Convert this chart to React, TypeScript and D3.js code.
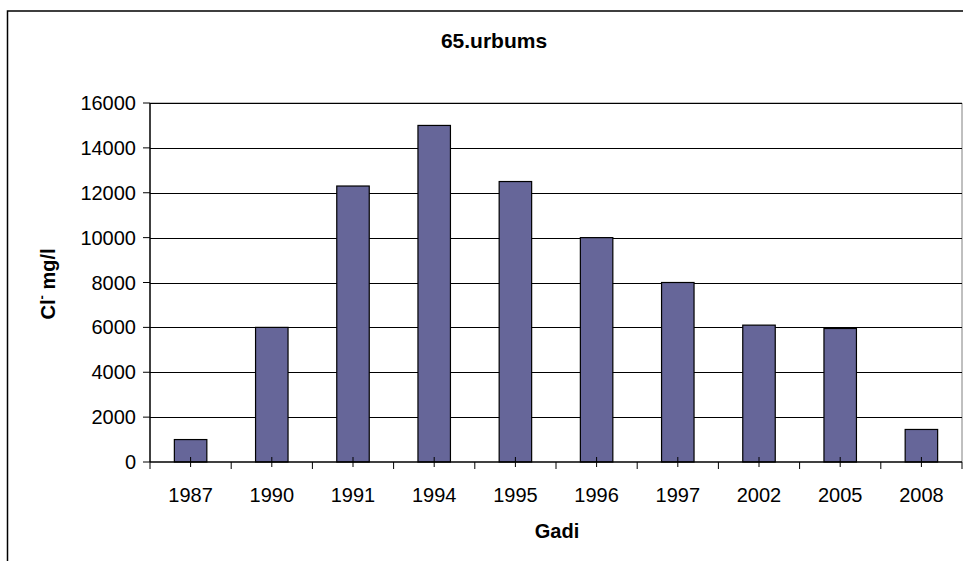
import * as d3 from "d3";
import React from "react";

const years = ["1987", "1990", "1991", "1994", "1995", "1996", "1997", "2002", "2005", "2008"];
const chloride = [1000, 6000, 12300, 15000, 12500, 10000, 8000, 6100, 5950, 1450];
const yTicks = [0, 2000, 4000, 6000, 8000, 10000, 12000, 14000, 16000];

const W = 963,
	H = 561;
const plot = { left: 150, right: 962, top: 103, bottom: 462 };
const font = "Arial, 'Liberation Sans', Helvetica, sans-serif";

const App = () => {
	const x = d3
		.scaleBand()
		.domain(years)
		.range([plot.left, plot.right])
		.paddingInner(0.6)
		.paddingOuter(0.3);
	const y = d3.scaleLinear().domain([0, 16000]).range([plot.bottom, plot.top]);

	// category boundaries (major ticks) and centres (minor ticks)
	const step = x.step();
	const bounds = d3.range(years.length + 1).map((i) => plot.left + i * step);
	const centres = years.map((d) => x(d)! + x.bandwidth() / 2);

	return (
		<svg
			width={W}
			height={H}
			style={{ position: "absolute", left: 0, top: 0, background: "#fff" }}
			fontFamily={font}
		>
			<rect x={0} y={0} width={W} height={H} fill="#fff" />
			{/* chart frame */}
			<path d={`M7.5,${H + 5} V11 H${W + 5}`} fill="none" stroke="#000" strokeWidth={1.5} />

			<text x={494} y={48} textAnchor="middle" fontSize={21} fontWeight="bold">
				65.urbums
			</text>

			{/* plot area border */}
			<path
				d={`M${plot.left},${plot.top} H${plot.right} V${plot.bottom}`}
				fill="none"
				stroke="#808080"
				strokeWidth={1}
			/>

			{/* gridlines */}
			{yTicks.slice(1).map((t) => (
				<line
					key={"g" + t}
					x1={plot.left}
					x2={plot.right}
					y1={Math.round(y(t)) + 0.5}
					y2={Math.round(y(t)) + 0.5}
					stroke="#000"
					strokeWidth={1}
				/>
			))}

			{/* bars */}
			{years.map((yr, i) => (
				<rect
					key={yr}
					x={x(yr)}
					y={y(chloride[i])}
					width={x.bandwidth()}
					height={plot.bottom - y(chloride[i])}
					fill="#666699"
					stroke="#000"
					strokeWidth={1.2}
				/>
			))}

			{/* y axis */}
			<line x1={plot.left} x2={plot.left} y1={plot.top} y2={plot.bottom} stroke="#000" strokeWidth={1.5} />
			{yTicks.map((t) => (
				<g key={"y" + t}>
					<line x1={plot.left - 7} x2={plot.left} y1={y(t)} y2={y(t)} stroke="#000" />
					<text x={136} y={y(t)} dy="0.35em" textAnchor="end" fontSize={20}>
						{t}
					</text>
				</g>
			))}

			{/* x axis */}
			<line x1={plot.left} x2={plot.right} y1={plot.bottom} y2={plot.bottom} stroke="#000" strokeWidth={1.5} />
			{bounds.map((b, i) => (
				<line key={"b" + i} x1={b} x2={b} y1={plot.bottom} y2={plot.bottom + 7} stroke="#000" />
			))}
			{centres.map((c, i) => (
				<line key={"c" + i} x1={c} x2={c} y1={plot.bottom - 5} y2={plot.bottom + 5} stroke="#000" />
			))}
			{years.map((yr, i) => (
				<text key={"t" + yr} x={centres[i]} y={502} textAnchor="middle" fontSize={20}>
					{yr}
				</text>
			))}

			<text x={557} y={538} textAnchor="middle" fontSize={20} fontWeight="bold">
				Gadi
			</text>
			<text
				transform={`translate(55,284) rotate(-90)`}
				textAnchor="middle"
				fontSize={20}
				fontWeight="bold"
			>
				Cl
				<tspan fontSize={13} dy={-9}>
					-
				</tspan>
				<tspan dy={9}> mg/l</tspan>
			</text>
		</svg>
	);
};

export default App;
